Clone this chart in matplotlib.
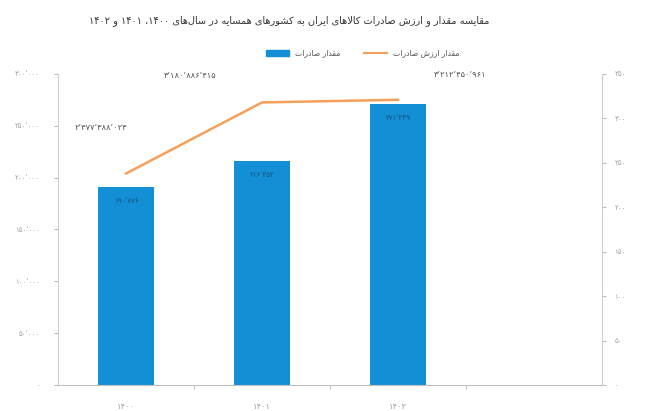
import re
import matplotlib
matplotlib.use("Agg")
import matplotlib.pyplot as plt
from matplotlib.lines import Line2D
from matplotlib.patches import Patch

# داده‌ها
years = ["۱۴۰۰", "۱۴۰۱", "۱۴۰۲", ""]
export_volume = [190876, 216452, 271239]      # ستون‌ها (محور چپ)
export_value = [238, 318, 321]                # خط (محور راست)
volume_labels = ["۱۹۰٬۸۷۶", "۲۱۶٬۴۵۲", "۲۷۱٬۲۳۹"]
value_labels = ["۲٬۳۷۷٬۳۸۸٬۰۲۳", "۳٬۱۸۰٬۸۸۶٬۴۱۵", "۳٬۲۱۲٬۴۵۰٬۹۶۱"]
left_ticks = [0, 50000, 100000, 150000, 200000, 250000, 300000]
right_ticks = [0, 50, 100, 150, 200, 250, 300, 350]

title = "مقایسه مقدار و ارزش صادرات کالاهای ایران به کشورهای همسایه در سال‌های ۱۴۰۰، ۱۴۰۱ و ۱۴۰۲"
bar_name = "مقدار صادرات"
line_name = "مقدار ارزش صادرات"

# matplotlib does no Arabic shaping, so build presentation forms by hand
FORMS = {
    'ا': (0xFE8D, 0xFE8E), 'آ': (0xFE81, 0xFE82), 'د': (0xFEA9, 0xFEAA),
    'ذ': (0xFEAB, 0xFEAC), 'ر': (0xFEAD, 0xFEAE), 'ز': (0xFEAF, 0xFEB0),
    'ژ': (0xFB8A, 0xFB8B), 'و': (0xFEED, 0xFEEE),
    'ب': (0xFE8F, 0xFE90, 0xFE91, 0xFE92), 'پ': (0xFB56, 0xFB57, 0xFB58, 0xFB59),
    'ت': (0xFE95, 0xFE96, 0xFE97, 0xFE98), 'ث': (0xFE99, 0xFE9A, 0xFE9B, 0xFE9C),
    'ج': (0xFE9D, 0xFE9E, 0xFE9F, 0xFEA0), 'چ': (0xFB7A, 0xFB7B, 0xFB7C, 0xFB7D),
    'ح': (0xFEA1, 0xFEA2, 0xFEA3, 0xFEA4), 'خ': (0xFEA5, 0xFEA6, 0xFEA7, 0xFEA8),
    'س': (0xFEB1, 0xFEB2, 0xFEB3, 0xFEB4), 'ش': (0xFEB5, 0xFEB6, 0xFEB7, 0xFEB8),
    'ص': (0xFEB9, 0xFEBA, 0xFEBB, 0xFEBC), 'ض': (0xFEBD, 0xFEBE, 0xFEBF, 0xFEC0),
    'ط': (0xFEC1, 0xFEC2, 0xFEC3, 0xFEC4), 'ظ': (0xFEC5, 0xFEC6, 0xFEC7, 0xFEC8),
    'ع': (0xFEC9, 0xFECA, 0xFECB, 0xFECC), 'غ': (0xFECD, 0xFECE, 0xFECF, 0xFED0),
    'ف': (0xFED1, 0xFED2, 0xFED3, 0xFED4), 'ق': (0xFED5, 0xFED6, 0xFED7, 0xFED8),
    'ک': (0xFB8E, 0xFB8F, 0xFB90, 0xFB91), 'گ': (0xFB92, 0xFB93, 0xFB94, 0xFB95),
    'ل': (0xFEDD, 0xFEDE, 0xFEDF, 0xFEE0), 'م': (0xFEE1, 0xFEE2, 0xFEE3, 0xFEE4),
    'ن': (0xFEE5, 0xFEE6, 0xFEE7, 0xFEE8), 'ه': (0xFEE9, 0xFEEA, 0xFEEB, 0xFEEC),
    'ی': (0xFBFC, 0xFBFD, 0xFBFE, 0xFBFF),
}


def fa(text):
    chars = list(text)
    out = []
    i = 0
    while i < len(chars):
        c = chars[i]
        if c not in FORMS:
            out.append(c)
            i += 1
            continue
        prev = chars[i - 1] if i > 0 else None
        nxt = chars[i + 1] if i + 1 < len(chars) else None
        join_prev = prev in FORMS and len(FORMS[prev]) == 4
        if c == 'ل' and nxt in ('ا', 'آ'):
            if nxt == 'ا':
                out.append(chr(0xFEFC if join_prev else 0xFEFB))
            else:
                out.append(chr(0xFEF6 if join_prev else 0xFEF5))
            i += 2
            continue
        f = FORMS[c]
        join_next = len(f) == 4 and nxt in FORMS
        if join_prev and join_next:
            g = f[3]
        elif join_prev:
            g = f[1]
        elif join_next:
            g = f[2]
        else:
            g = f[0]
        out.append(chr(g))
        i += 1
    s = ''.join(out).replace('\u200c', '')
    parts = re.findall(r'[۰-۹0-9٬]+|[^۰-۹0-9٬]+', s)
    return ''.join(p if re.match(r'[۰-۹0-9]', p) else p[::-1] for p in reversed(parts))


def fa_num(n):
    s = f"{n:,}".replace(',', '٬')
    return s.translate(str.maketrans("0123456789", "۰۱۲۳۴۵۶۷۸۹"))


plt.rcParams['font.family'] = ['DejaVu Sans']
bar_color = '#138fd6'
line_color = '#f5a05a'
grey = '#a0a0a0'

fig = plt.figure(figsize=(6.72, 4.11), dpi=100)
ax = fig.add_axes([58 / 672, 26 / 411, 544 / 672, 311 / 411])
ax2 = ax.twinx()

x = list(range(len(export_volume)))
ax.bar(x, export_volume, width=0.41, color=bar_color, zorder=2)
ax2.plot(x, export_value, color=line_color, linewidth=1.8, zorder=3)

for i, v in enumerate(export_volume):
    ax.annotate(volume_labels[i], (i, v), xytext=(0, -10), textcoords='offset points',
                ha='center', va='center', fontsize=5, color='#1d4f7a')

offsets = [(-25, 46), (-72, 27), (62, 25)]
for i, v in enumerate(export_value):
    ax2.annotate(value_labels[i], (i, v), xytext=offsets[i], textcoords='offset pixels',
                 ha='center', va='center', fontsize=6, color='#555555')

ax.set_xlim(-0.5, len(years) - 0.5)
ax.set_ylim(0, left_ticks[-1])
ax2.set_ylim(0, right_ticks[-1])

ax.set_xticks(range(len(years)))
ax.set_xticklabels(years, fontsize=6, color=grey)
ax.set_xticks([0.5, 1.5, 2.5], minor=True)
ax.tick_params(axis='x', which='major', length=0, pad=12)
ax.tick_params(axis='x', which='minor', length=3, color='#bbbbbb')

ax.set_yticks(left_ticks)
ax.set_yticklabels([fa_num(t) for t in left_ticks], fontsize=5, color=grey)
ax.tick_params(axis='y', length=3, color='#bbbbbb', pad=10)

ax2.set_yticks(right_ticks)
ax2.set_yticklabels([fa_num(t) for t in right_ticks], fontsize=5, color=grey)
ax2.tick_params(axis='y', length=3, color='#bbbbbb', pad=6)

for a in (ax, ax2):
    for s in a.spines.values():
        s.set_visible(False)
ax.spines['left'].set_visible(True)
ax.spines['left'].set_color('#d0d0d0')
ax.spines['bottom'].set_visible(True)
ax.spines['bottom'].set_color('#c0c0c0')
ax2.spines['right'].set_visible(True)
ax2.spines['right'].set_color('#d0d0d0')

fig.text(0.43, 0.95, fa(title), ha='center', va='center', fontsize=7, color='#333333')

handles = [Patch(color=bar_color), Line2D([], [], color=line_color, linewidth=1.5)]
fig.legend(handles, [fa(bar_name), fa(line_name)], loc='center', bbox_to_anchor=(0.54, 0.871),
           ncol=2, frameon=False, fontsize=5.5, handlelength=3, handleheight=0.9,
           columnspacing=3, labelcolor='#555555')

fig.savefig('out.png', dpi=100)
